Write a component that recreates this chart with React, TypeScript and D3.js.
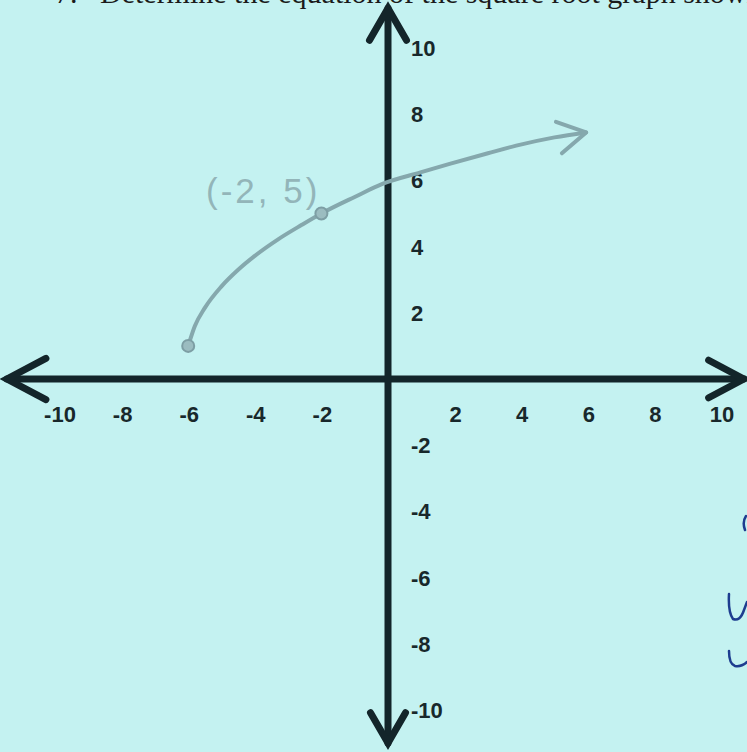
import React from "react";
import * as d3 from "d3";

// Canvas
const W = 747;
const H = 752;

// Tick labels on both axes (zero is omitted)
const xTickValues = [-10, -8, -6, -4, -2, 2, 4, 6, 8, 10];
const yTickValues = [-10, -8, -6, -4, -2, 2, 4, 6, 8, 10];

// Sketched curve, read point by point
const curveX = [-6, -5.8, -5.5, -5, -4.5, -4, -3.3, -2.6, -2, -1, -0.15, 1, 1.85, 3, 3.85, 5, 5.95];
const curveY = [1, 1.6, 2.15, 2.8, 3.3, 3.72, 4.22, 4.65, 5, 5.5, 5.9, 6.25, 6.5, 6.82, 7.05, 7.3, 7.45];

// Marked points on the curve
const markX = [-6, -2];
const markY = [1, 5];
const markLabels = ["", "(-2, 5)"];

// Extent of the drawn axis lines (in graph units)
const xAxisExtent = [-11.44, 10.69];
const yAxisExtent = [-11.0, 11.2];

const x = d3.scaleLinear().domain([-10, 10]).range([55, 721]);
const y = d3.scaleLinear().domain([-10, 10]).range([710, 48]);

function chevron(tx: number, ty: number, angleDeg: number, len: number, halfDeg: number) {
  // angleDeg: direction the arrow points to
  const back = ((angleDeg + 180) * Math.PI) / 180;
  const h = (halfDeg * Math.PI) / 180;
  const a1 = [tx + len * Math.cos(back - h), ty + len * Math.sin(back - h)];
  const a2 = [tx + len * Math.cos(back + h), ty + len * Math.sin(back + h)];
  return `M${a1[0]},${a1[1]} L${tx},${ty} L${a2[0]},${a2[1]}`;
}

export default function App() {
  const x0 = x(0);
  const y0 = y(0);
  const pts: [number, number][] = curveX.map((v, i) => [x(v), y(curveY[i])]);
  const line = d3.line<[number, number]>().curve(d3.curveMonotoneX);
  const curvePath = line(pts) || "";
  const n = pts.length;
  const endAngle =
    (Math.atan2(pts[n - 1][1] - pts[n - 3][1], pts[n - 1][0] - pts[n - 3][0]) * 180) / Math.PI;

  const axisColor = "#13252a";
  const pencil = "#85a8ad";

  return (
    <svg
      width={W}
      height={H}
      viewBox={`0 0 ${W} ${H}`}
      style={{ position: "absolute", left: 0, top: 0, display: "block" }}
    >
      <rect x={0} y={0} width={W} height={H} fill="#c4f2f1" />

      {/* question line cut off at the top edge */}
      <g fontFamily="'Liberation Serif', serif" fontSize={30} fill="#1b1b1b">
        <text x={55} y={3}>7.</text>
        <text x={100} y={3}>Determine the equation of the square root graph shown.</text>
      </g>

      {/* axes */}
      <g stroke={axisColor} strokeWidth={7} fill="none" strokeLinecap="round" strokeLinejoin="miter">
        <line x1={x(xAxisExtent[0])} y1={y0} x2={x(xAxisExtent[1])} y2={y0} />
        <line x1={x0} y1={y(yAxisExtent[1])} x2={x0} y2={y(yAxisExtent[0])} />
        <path d={chevron(x(xAxisExtent[0]), y0, 180, 44, 28)} />
        <path d={chevron(x(xAxisExtent[1]), y0, 0, 40, 28)} />
        <path d={chevron(x0, y(yAxisExtent[1]), -90, 37, 30)} />
        <path d={chevron(x0, y(yAxisExtent[0]), 90, 35, 30)} />
      </g>

      {/* tick labels */}
      <g fontFamily="'Liberation Sans', Arial, sans-serif" fontSize={22} fontWeight={700} fill="#18282b">
        {xTickValues.map((v) => (
          <text key={`x${v}`} x={x(v) + (v === -10 ? 5 : 1)} y={y0 + 43} textAnchor="middle">
            {v}
          </text>
        ))}
        {yTickValues.map((v) => (
          <text key={`y${v}`} x={x0 + 23} y={y(v) + 8} textAnchor="start">
            {v}
          </text>
        ))}
      </g>

      {/* sketched curve */}
      <g stroke={pencil} fill="none" strokeLinecap="round" strokeLinejoin="round">
        <path d={curvePath} strokeWidth={4} />
        <path d={chevron(pts[n - 1][0], pts[n - 1][1], endAngle, 32, 30)} strokeWidth={4} />
      </g>

      {/* marked points */}
      {markX.map((v, i) => (
        <g key={`m${i}`}>
          <circle cx={x(v)} cy={y(markY[i])} r={6} fill="#9bbcc0" stroke="#7d9ea4" strokeWidth={2} />
          {markLabels[i] && (
            <text
              x={x(v) - 1}
              y={y(markY[i]) - 11}
              textAnchor="end"
              fontFamily="'Liberation Sans', Arial, sans-serif"
              fontSize={35}
              letterSpacing={3}
              fill="#93b5b9"
            >
              {markLabels[i]}
            </text>
          )}
        </g>
      ))}

      {/* pen marks at the right margin */}
      <g stroke="#1d3d8f" strokeWidth={2.5} fill="none" strokeLinecap="round">
        <path d="M746,516 Q742,522 745,530" />
        <path d="M729,594 Q728,612 733,619 Q740,622 744,610 L747,602" />
        <path d="M729,651 Q729,664 735,666 Q742,667 747,662" />
      </g>
    </svg>
  );
}
